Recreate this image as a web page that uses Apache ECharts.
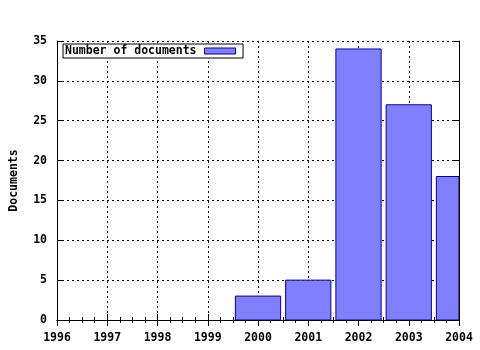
<!DOCTYPE html>
<html><head><meta charset="utf-8">
<script src="https://cdn.jsdelivr.net/npm/echarts@6/dist/echarts.min.js"></script>
<style>html,body{margin:0;padding:0;background:#fff}#c{width:480px;height:350px}</style>
</head><body><div id="c"></div>
<script>
const years = [2000, 2001, 2002, 2003, 2004];
const documents = [3, 5, 34, 27, 18];
const seriesName = 'Number of documents';
const yTitle = 'Documents';

const font = {fontFamily: 'DejaVu Sans Mono', fontWeight: 'bold', fontSize: 11.5, color: '#000'};
const dotted = {show: true, lineStyle: {color: '#000', type: [2, 3], width: 1}};
const line = {show: true, lineStyle: {color: '#000', width: 1}};
const barFill = '#8080ff', barEdge = '#000099';
const chart = echarts.init(document.getElementById('c'), null, {renderer: 'canvas'});
chart.setOption({
  animation: false,
  backgroundColor: '#fff',
  grid: {left: 57, right: 21, top: 41, bottom: 30},
  legend: {
    show: true, left: 63, top: 44, orient: 'horizontal', align: 'right',
    itemWidth: 31, itemHeight: 6, itemGap: 4,
    padding: [1, 7, 1, 2], borderColor: '#000', borderWidth: 1, backgroundColor: '#fff',
    textStyle: Object.assign({}, font, {padding: [0, 3, 0, 0]}),
    data: [{name: seriesName, icon: 'rect', itemStyle: {color: barFill, borderColor: barEdge, borderWidth: 1}}]
  },
  xAxis: [{
    type: 'value', min: 1996, max: 2004, interval: 1, position: 'bottom',
    axisLine: Object.assign({onZero: false}, line),
    axisTick: {show: true, inside: true, length: 6, lineStyle: {color: '#000'}},
    minorTick: {show: true, splitNumber: 4, length: 3, lineStyle: {color: '#000'}},
    splitLine: dotted,
    axisLabel: Object.assign({margin: 12, formatter: v => String(v)}, font)
  }, {
    type: 'value', min: 1996, max: 2004, interval: 1, position: 'top',
    axisLine: line,
    axisTick: {show: true, inside: true, length: 6, lineStyle: {color: '#000'}},
    minorTick: {show: true, splitNumber: 4, length: 3, lineStyle: {color: '#000'}},
    splitLine: {show: false}, axisLabel: {show: false}
  }],
  yAxis: [{
    type: 'value', min: 0, max: 35, interval: 5, position: 'left',
    name: yTitle, nameLocation: 'middle', nameGap: 37, nameRotate: 90,
    nameTextStyle: font,
    axisLine: line,
    axisTick: {show: true, inside: true, length: 6, lineStyle: {color: '#000'}},
    splitLine: dotted,
    axisLabel: Object.assign({margin: 10, formatter: v => String(v)}, font)
  }, {
    type: 'value', min: 0, max: 35, interval: 5, position: 'right',
    axisLine: line,
    axisTick: {show: true, inside: true, length: 6, lineStyle: {color: '#000'}},
    splitLine: {show: false}, axisLabel: {show: false}
  }],
  series: [{
    name: seriesName, type: 'custom', xAxisIndex: 0, yAxisIndex: 0, clip: true,
    itemStyle: {color: barFill, borderColor: barEdge, borderWidth: 1},
    renderItem: function (params, api) {
      const x = api.value(0), v = api.value(1);
      const p0 = api.coord([x, 0]);
      const p1 = api.coord([x, v]);
      const w = api.size([0.9, 0])[0];
      const cs = params.coordSys;
      const rect = echarts.graphic.clipRectByRect(
        {x: p0[0] - w / 2, y: p1[1], width: w, height: p0[1] - p1[1]},
        {x: cs.x, y: cs.y, width: cs.width, height: cs.height});
      if (!rect) return null;
      return {type: 'rect', shape: rect,
        style: {fill: barFill, stroke: barEdge, lineWidth: 1}};
    },
    encode: {x: 0, y: 1},
    data: years.map((y, i) => [y, documents[i]])
  }]
});
</script></body></html>
